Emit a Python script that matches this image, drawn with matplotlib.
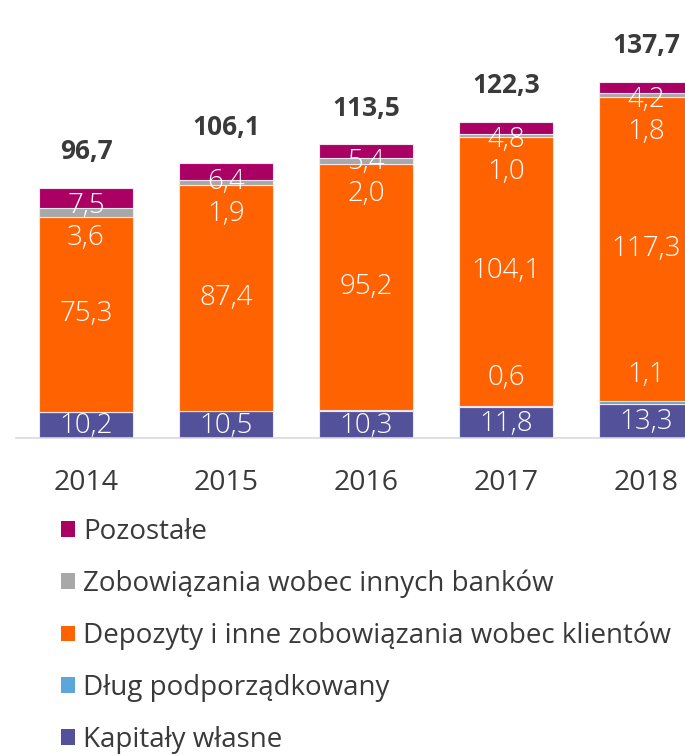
import matplotlib.pyplot as plt
from matplotlib.patches import Patch

years = ["2014", "2015", "2016", "2017", "2018"]
kapitaly = [10.2, 10.5, 10.3, 11.8, 13.3]
dlug = [0.0, 0.0, 0.6, 0.6, 1.1]
depozyty = [75.3, 87.4, 95.2, 104.1, 117.3]
banki = [3.6, 1.9, 2.0, 1.0, 1.8]
pozostale = [7.5, 6.4, 5.4, 4.8, 4.2]
totals = [96.7, 106.1, 113.5, 122.3, 137.7]
# which years get a printed value for the subordinated debt slice
dlug_shown = [False, False, False, True, True]

names = ["Kapitały własne", "Dług podporządkowany",
         "Depozyty i inne zobowiązania wobec klientów",
         "Zobowiązania wobec innych banków", "Pozostałe"]
colors = ["#525199", "#5DA6DA", "#FF6200", "#A8A8A8", "#AA0064"]

FONT = "Open Sans"
TXT = "#3a3a3a"
plt.rcParams["font.family"] = [FONT, "DejaVu Sans"]

def pl(v):
    return f"{v:.1f}".replace(".", ",")

fig = plt.figure(figsize=(6.85, 7.56), dpi=100)
W, H = 685, 756
ax = fig.add_axes([16 / W, (H - 438) / H, 700 / W, 388 / H])
ax.set_xlim(-0.5, 4.5)
ax.set_ylim(0, 150)

x = range(len(years))
series = [kapitaly, dlug, depozyty, banki, pozostale]
bottom = [0.0] * len(years)
for vals, c in zip(series, colors):
    ax.bar(x, vals, 0.665, bottom=bottom, color=c, edgecolor="#f2e6ee",
           linewidth=0.8, zorder=2)
    bottom = [b + v for b, v in zip(bottom, vals)]

lab = dict(color="white", fontsize=20, fontweight="light",
           ha="center", va="center", zorder=3)
for i in x:
    k = kapitaly[i]
    ax.text(i, k / 2 - 0.6, pl(k), **lab)
    base = k + dlug[i]
    ax.text(i, base + depozyty[i] / 2, pl(depozyty[i]), **lab)
    if dlug_shown[i]:
        ax.annotate(pl(dlug[i]), (i, k), xytext=(0, 29),
                    textcoords="offset pixels", **lab)
    ax.annotate(pl(pozostale[i]), (i, totals[i]), xytext=(0, -18),
                textcoords="offset pixels", **lab)
    ax.annotate(pl(banki[i]), (i, totals[i]), xytext=(0, -50),
                textcoords="offset pixels", **lab)
    ax.annotate(pl(totals[i]), (i, totals[i]), xytext=(0, 36),
                textcoords="offset pixels", color=TXT, fontsize=19,
                fontweight="bold", ha="center", va="center")

for s in ["top", "right", "left"]:
    ax.spines[s].set_visible(False)
ax.spines["bottom"].set_color("#d9d9d9")
ax.spines["bottom"].set_linewidth(1.2)
ax.set_yticks([])
ax.set_xticks(list(x))
ax.set_xticklabels(years, fontsize=20.5, color=TXT)
ax.tick_params(axis="x", length=0, pad=22)

handles = [Patch(facecolor=c, edgecolor="none") for c in colors][::-1]
leg = fig.legend(handles, names[::-1], loc="upper left",
                 bbox_to_anchor=(50 / W, 1 - 507 / H), frameon=False,
                 fontsize=20, handlelength=0.5, handleheight=0.5,
                 handletextpad=0.3, labelspacing=0.85, borderaxespad=0)
for t in leg.get_texts():
    t.set_color(TXT)

fig.savefig("out.png", dpi=100)
